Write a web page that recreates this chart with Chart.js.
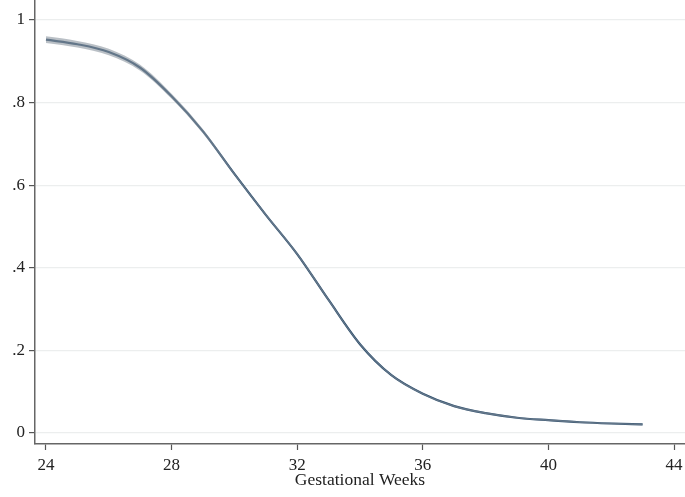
<!DOCTYPE html>
<html>
<head>
<meta charset="utf-8">
<script src="https://cdn.jsdelivr.net/npm/chart.js@4"></script>
<style>
  html, body { margin: 0; padding: 0; background: #fff; }
  #wrap { width: 685px; height: 497px; }
</style>
</head>
<body>
<div id="wrap"><canvas id="myChart"></canvas></div>
<script>
// gestational week and predicted probability, with CI band
const weeks = [24, 25, 26, 27, 28, 29, 30, 31, 32, 33, 34, 35, 36, 37, 38, 39, 40, 41, 42, 43];
const est = [0.952, 0.941, 0.922, 0.884, 0.815, 0.73, 0.627, 0.528, 0.433, 0.322, 0.215, 0.14, 0.095, 0.065, 0.048, 0.037, 0.031, 0.026, 0.023, 0.021];
const upper = [0.96, 0.949, 0.93, 0.891, 0.821, 0.735, 0.63, 0.531, 0.436, 0.325, 0.217, 0.142, 0.097, 0.067, 0.05, 0.039, 0.033, 0.028, 0.025, 0.023];
const lower = [0.944, 0.933, 0.914, 0.877, 0.809, 0.725, 0.624, 0.525, 0.43, 0.319, 0.213, 0.138, 0.093, 0.063, 0.046, 0.035, 0.029, 0.024, 0.021, 0.019];

const xTicks = [24, 28, 32, 36, 40, 44];
const yTicks = [0, 0.2, 0.4, 0.6, 0.8, 1];
const yTickLabels = ["0", ".2", ".4", ".6", ".8", "1"];

const pts = (ys) => weeks.map((w, i) => ({ x: w, y: ys[i] }));

const ctx = document.getElementById("myChart").getContext("2d");

new Chart(ctx, {
  type: "line",
  data: {
    datasets: [
      {
        data: pts(upper),
        borderWidth: 0,
        pointRadius: 0,
        fill: "+1",
        backgroundColor: "rgba(140, 150, 160, 0.6)",
        cubicInterpolationMode: "monotone",
      },
      {
        data: pts(lower),
        borderWidth: 0,
        pointRadius: 0,
        fill: false,
        cubicInterpolationMode: "monotone",
      },
      {
        data: pts(est),
        borderColor: "#264868",
        borderWidth: 2.2,
        pointRadius: 0,
        fill: false,
        cubicInterpolationMode: "monotone",
      },
    ],
  },
  options: {
    responsive: true,
    maintainAspectRatio: false,
    animation: false,
    layout: { padding: 0, autoPadding: false },
    plugins: {
      legend: { display: false },
      tooltip: { enabled: false },
    },
    scales: {
      x: {
        type: "linear",
        min: 23.65,
        max: 44.35,
        afterBuildTicks: (axis) => {
          axis.ticks = xTicks.map((v) => ({ value: v }));
        },
        afterFit: (axis) => {
          axis.height = 53;
          axis.paddingLeft = 0;
          axis.paddingRight = 0;
        },
        ticks: {
          color: "#222",
          font: { family: "Liberation Serif", size: 17 },
          padding: 5,
          maxRotation: 0,
        },
        grid: {
          drawOnChartArea: false,
          drawTicks: true,
          tickLength: 6,
          tickColor: "#555",
          tickWidth: 1.2,
        },
        border: { color: "#666", width: 1.5 },
        title: {
          display: true,
          text: "Gestational Weeks",
          color: "#222",
          font: { family: "Liberation Serif", size: 17.5 },
          padding: { top: 0, bottom: 6 },
        },
      },
      y: {
        min: -0.0266,
        max: 1.048,
        afterBuildTicks: (axis) => {
          axis.ticks = yTicks.map((v) => ({ value: v }));
        },
        afterFit: (axis) => {
          axis.width = 35;
          axis.paddingTop = 0;
          axis.paddingBottom = 0;
        },
        ticks: {
          color: "#222",
          font: { family: "Liberation Serif", size: 17 },
          padding: 4,
          callback: (v) => {
            const i = yTicks.findIndex((t) => Math.abs(t - v) < 1e-6);
            return i >= 0 ? yTickLabels[i] : "";
          },
        },
        grid: {
          color: "#eceeee",
          lineWidth: 1.2,
          drawTicks: true,
          tickLength: 6,
          tickColor: "#555",
          tickWidth: 1.2,
        },
        border: { color: "#666", width: 1.5 },
      },
    },
  },
});
</script>
</body>
</html>
